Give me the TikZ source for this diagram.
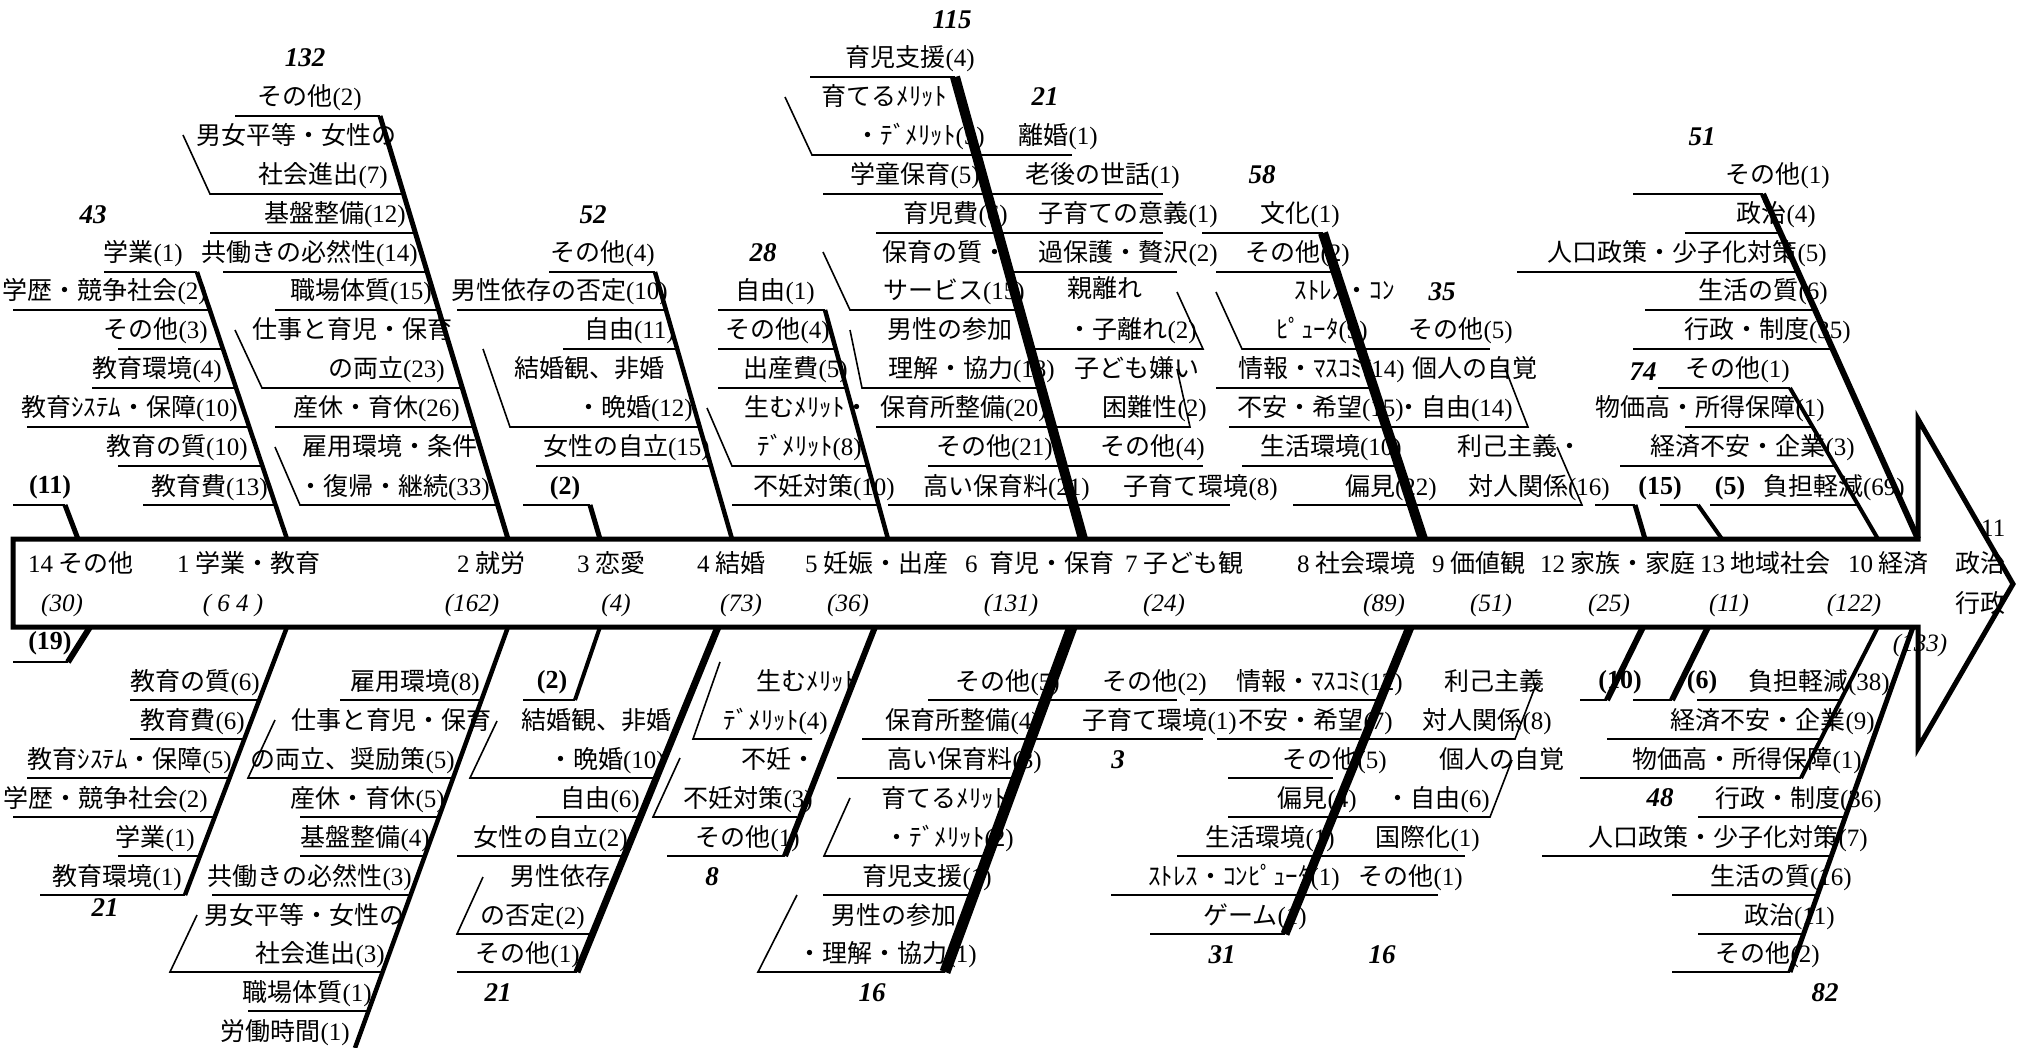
\documentclass[tikz,border=0pt]{standalone}
\usepackage{fontspec}
\setmainfont{Liberation Serif}
\newfontfamily\jp{Noto Sans CJK JP}
\newcommand\cnt[1]{{\rmfamily(#1)}}
\newcommand\rmnum[1]{{\rmfamily #1}}

\begin{document}
\begin{tikzpicture}[x=1pt,y=-1pt,
  twig/.style={line width=1.6pt},
  bone/.style={line width=5pt},
  fatbone/.style={line width=10pt},
  spine/.style={line width=5pt, line join=miter},
  itm/.style={font=\jp\fontsize{25}{30}\selectfont, anchor=base east, inner sep=0pt},
  head/.style={font=\jp\fontsize{25}{30}\selectfont, anchor=base west, inner sep=0pt},
  cnum/.style={font=\itshape\fontsize{25}{30}\selectfont, anchor=base, inner sep=0pt},
  tot/.style={font=\bfseries\itshape\fontsize{27}{30}\selectfont, inner sep=0pt},
  sub/.style={font=\bfseries\fontsize{26}{30}\selectfont, inner sep=0pt}]
\useasboundingbox (0,0) rectangle (2027,1048);

\draw[spine] (13,539) -- (1918,539) -- (1918,419) -- (2013,584) -- (1918,748) -- (1918,627) -- (13,627) -- cycle;

\node[head] (p14) at (28,572) {\rmnum{14} その他};
\node[head] (p1) at (177,572) {\rmnum{1} 学業・教育};
\node[head] (p2) at (457,572) {\rmnum{2} 就労};
\node[head] (p3) at (577,572) {\rmnum{3} 恋愛};
\node[head] (p4) at (697,572) {\rmnum{4} 結婚};
\node[head] (p5) at (805,572) {\rmnum{5} 妊娠・出産};
\node[head] (p6) at (965,572) {\rmnum{6}\hspace{12pt}育児・保育};
\node[head] (p7) at (1125,572) {\rmnum{7} 子ども観};
\node[head] (p8) at (1297,572) {\rmnum{8} 社会環境};
\node[head] (p9) at (1432,572) {\rmnum{9} 価値観};
\node[head] (p12) at (1540,572) {\rmnum{12} 家族・家庭};
\node[head] (p13) at (1700,572) {\rmnum{13} 地域社会};
\node[head] (p10) at (1848,572) {\rmnum{10} 経済};
\node[head] (p11) at (1981,536) {\rmnum{11}};
\node[head] (p11a) at (1955,572) {政治};
\node[head] (p11b) at (1955,612) {行政};

\node[cnum] (q14) at (62,611) {(30)};
\node[cnum] (q1) at (233,611) {( 6 4 )};
\node[cnum] (q2) at (472,611) {(162)};
\node[cnum] (q3) at (616,611) {(4)};
\node[cnum] (q4) at (741,611) {(73)};
\node[cnum] (q5) at (848,611) {(36)};
\node[cnum] (q6) at (1011,611) {(131)};
\node[cnum] (q7) at (1164,611) {(24)};
\node[cnum] (q8) at (1384,611) {(89)};
\node[cnum] (q9) at (1491,611) {(51)};
\node[cnum] (q12) at (1609,611) {(25)};
\node[cnum] (q13) at (1729,611) {(11)};
\node[cnum] (q10) at (1854,611) {(122)};
\node[cnum] (q11) at (1920,651) {(133)};

% upper side
\draw[bone] (78,539) -- (65,505);
\draw[twig] (13,505) -- (65,505);
\node[sub] (s14u) at (50,487) {(11)};

\draw[bone, line width=4.5pt] (287,539) -- (197,272);
\draw[twig] (104,272) -- (197,272); \node[itm] (a1) at (183,262) {学業\cnt{1}};
\draw[twig] (13,310) -- (210,310); \node[itm] (a2) at (207,300) {学歴・競争社会\cnt{2}};
\draw[twig] (118,349) -- (223,349); \node[itm] (a3) at (208,339) {その他\cnt{3}};
\draw[twig] (92,388) -- (236,388); \node[itm] (a4) at (222,378) {教育環境\cnt{4}};
\draw[twig] (27,427) -- (249,427); \node[itm] (a5) at (238,417) {教育ｼｽﾃﾑ・保障\cnt{10}};
\draw[twig] (118,466) -- (262,466); \node[itm] (a6) at (248,456) {教育の質\cnt{10}};
\draw[twig] (143,505) -- (276,505); \node[itm] (a7) at (268,495) {教育費\cnt{13}};
\node[tot] (a0) at (93,215) {43};

\draw[bone] (508,539) -- (380,116);
\draw[twig] (235,116) -- (380,116); \node[itm] (b1) at (362,106) {その他\cnt{2}};
\draw[twig] (183,135) -- (210,194) -- (404,194); \node[itm] (b2) at (397,145) {男女平等・女性の}; \node[itm] (b3) at (388,184) {社会進出\cnt{7}};
\draw[twig] (210,233) -- (415,233); \node[itm] (b4) at (406,223) {基盤整備\cnt{12}};
\draw[twig] (223,272) -- (427,272); \node[itm] (b5) at (418,262) {共働きの必然性\cnt{14}};
\draw[twig] (275,310) -- (439,310); \node[itm] (b6) at (432,300) {職場体質\cnt{15}};
\draw[twig] (235,330) -- (262,388) -- (462,388); \node[itm] (b7) at (453,339) {仕事と育児・保育}; \node[itm] (b8) at (445,378) {の両立\cnt{23}};
\draw[twig] (275,427) -- (474,427); \node[itm] (b9) at (460,417) {産休・育休\cnt{26}};
\draw[twig] (275,447) -- (300,505) -- (498,505); \node[itm] (b10) at (478,456) {雇用環境・条件}; \node[itm] (b11) at (490,495) {・復帰・継続\cnt{33}};
\node[tot] (b0) at (305,58) {132};

\draw[bone] (600,539) -- (590,505);
\draw[twig] (523,505) -- (590,505);
\node[sub] (c0) at (565,488) {(2)};

\draw[bone, line width=4.5pt] (732,539) -- (655,272);
\draw[twig] (549,272) -- (655,272); \node[itm] (d1) at (655,262) {その他\cnt{4}};
\draw[twig] (457,310) -- (666,310); \node[itm] (d2) at (668,300) {男性依存の否定\cnt{10}};
\draw[twig] (563,349) -- (677,349); \node[itm] (d3) at (675,339) {自由\cnt{11}};
\draw[twig] (483,349) -- (510,427) -- (700,427); \node[itm] (d4) at (665,378) {結婚観、非婚}; \node[itm] (d5) at (693,417) {・晩婚\cnt{12}};
\draw[twig] (536,466) -- (711,466); \node[itm] (d6) at (710,456) {女性の自立\cnt{15}};
\node[tot] (d0) at (593,215) {52};

\draw[bone, line width=4.5pt] (888,539) -- (825,310);
\draw[twig] (718,310) -- (825,310); \node[itm] (e1) at (815,300) {自由\cnt{1}};
\draw[twig] (718,349) -- (836,349); \node[itm] (e2) at (830,339) {その他\cnt{4}};
\draw[twig] (718,388) -- (846,388); \node[itm] (e3) at (848,378) {出産費\cnt{5}};
\draw[twig] (707,408) -- (732,466) -- (868,466); \node[itm] (e4) at (870,417) {生むﾒﾘｯﾄ・}; \node[itm] (e5) at (862,456) {ﾃﾞﾒﾘｯﾄ\cnt{8}};
\draw[twig] (732,505) -- (879,505); \node[itm] (e6) at (895,495) {不妊対策\cnt{10}};
\node[tot] (e0) at (763,253) {28};

\draw[fatbone] (1083,539) -- (955,77);
\draw[twig] (810,77) -- (955,77); \node[itm] (f1) at (975,67) {育児支援\cnt{4}};
\draw[twig] (785,97) -- (812,155) -- (977,155); \node[itm] (f2) at (947,106) {育てるﾒﾘｯﾄ}; \node[itm] (f3) at (985,145) {・ﾃﾞﾒﾘｯﾄ\cnt{5}};
\draw[twig] (823,194) -- (987,194); \node[itm] (f4) at (980,184) {学童保育\cnt{5}};
\draw[twig] (876,233) -- (998,233); \node[itm] (f5) at (1008,223) {育児費\cnt{6}};
\draw[twig] (823,252) -- (850,310) -- (1019,310); \node[itm] (f6) at (1008,262) {保育の質・}; \node[itm] (f7) at (1025,300) {サービス\cnt{15}};
\draw[twig] (850,330) -- (862,388) -- (1041,388); \node[itm] (f8) at (1038,339) {男性の参加・}; \node[itm] (f9) at (1055,378) {理解・協力\cnt{18}};
\draw[twig] (876,427) -- (1052,427); \node[itm] (f10) at (1047,417) {保育所整備\cnt{20}};
\draw[twig] (928,466) -- (1063,466); \node[itm] (f11) at (1053,456) {その他\cnt{21}};
\draw[twig] (888,505) -- (1074,505); \node[itm] (f12) at (1090,495) {高い保育料\cnt{21}};
\node[tot] (f0) at (952,20) {115};

\draw[twig] (977,155) -- (1072,155); \node[itm] (g1) at (1098,145) {離婚\cnt{1}};
\draw[twig] (987,194) -- (1163,194); \node[itm] (g2) at (1180,184) {老後の世話\cnt{1}};
\draw[twig] (998,233) -- (1163,233); \node[itm] (g3) at (1218,223) {子育ての意義\cnt{1}};
\draw[twig] (1009,272) -- (1177,272); \node[itm] (g4) at (1218,262) {過保護・贅沢\cnt{2}};
\draw[twig] (1030,349) -- (1203,349) -- (1177,292); \node[itm] (g5) at (1143,298) {親離れ}; \node[itm] (g6) at (1197,339) {・子離れ\cnt{2}};
\draw[twig] (1052,427) -- (1190,427) -- (1177,369); \node[itm] (g7) at (1200,378) {子ども嫌い}; \node[itm] (g8) at (1207,417) {困難性\cnt{2}};
\draw[twig] (1063,466) -- (1203,466); \node[itm] (g9) at (1205,456) {その他\cnt{4}};
\draw[twig] (1074,505) -- (1230,505); \node[itm] (g10) at (1278,495) {子育て環境\cnt{8}};
\node[tot] (g0) at (1045,97) {21};

\draw[fatbone] (1423,539) -- (1323,233);
\draw[twig] (1202,233) -- (1323,233); \node[itm] (h1) at (1340,223) {文化\cnt{1}};
\draw[twig] (1216,272) -- (1336,272); \node[itm] (h2) at (1350,262) {その他\cnt{2}};
\draw[twig] (1216,292) -- (1242,349) -- (1361,349); \node[itm] (h3) at (1395,300) {ｽﾄﾚｽ・ｺﾝ}; \node[itm] (h4) at (1368,339) {ﾋﾟｭｰﾀ\cnt{9}};
\draw[twig] (1216,388) -- (1374,388); \node[itm] (h5) at (1405,378) {情報・ﾏｽｺﾐ\cnt{14}};
\draw[twig] (1229,427) -- (1386,427); \node[itm] (h6) at (1404,417) {不安・希望\cnt{15}};
\draw[twig] (1242,466) -- (1399,466); \node[itm] (h7) at (1402,456) {生活環境\cnt{10}};
\draw[twig] (1293,505) -- (1412,505); \node[itm] (h8) at (1437,495) {偏見\cnt{22}};
\node[tot] (h0) at (1262,175) {58};

\draw[twig] (1361,349) -- (1490,349); \node[itm] (i1) at (1513,339) {その他\cnt{5}};
\draw[twig] (1386,427) -- (1528,427) -- (1505,368); \node[itm] (i2) at (1538,378) {個人の自覚}; \node[itm] (i3) at (1513,417) {・自由\cnt{14}};
\draw[twig] (1412,505) -- (1582,505) -- (1557,447); \node[itm] (i4) at (1583,456) {利己主義・}; \node[itm] (i5) at (1610,495) {対人関係\cnt{16}};
\node[tot] (i0) at (1442,292) {35};

\draw[bone] (1645,539) -- (1635,505);
\draw[twig] (1595,505) -- (1635,505);
\node[sub] (l0) at (1660,488) {(15)};
\draw[bone, line width=4pt] (1722,539) -- (1698,505);
\draw[twig] (1660,505) -- (1698,505);
\node[sub] (m0) at (1730,488) {(5)};

\draw[bone, line width=4pt] (1878,539) -- (1790,388);
\draw[twig] (1658,388) -- (1790,388); \node[itm] (j1) at (1790,378) {その他\cnt{1}};
\draw[twig] (1685,427) -- (1812,427); \node[itm] (j2) at (1825,417) {物価高・所得保障\cnt{1}};
\draw[twig] (1620,466) -- (1835,466); \node[itm] (j3) at (1855,456) {経済不安・企業\cnt{3}};
\draw[twig] (1710,505) -- (1858,505); \node[itm] (j4) at (1905,495) {負担軽減\cnt{69}};
\node[tot] (j0) at (1643,372) {74};

\draw[bone, line width=6pt] (1918,539) -- (1763,194);
\draw[twig] (1633,194) -- (1763,194); \node[itm] (k1) at (1830,184) {その他\cnt{1}};
\draw[twig] (1685,233) -- (1781,233); \node[itm] (k2) at (1816,223) {政治\cnt{4}};
\draw[twig] (1517,272) -- (1798,272); \node[itm] (k3) at (1827,262) {人口政策・少子化対策\cnt{5}};
\draw[twig] (1645,310) -- (1815,310); \node[itm] (k4) at (1828,300) {生活の質\cnt{6}};
\draw[twig] (1633,349) -- (1833,349); \node[itm] (k5) at (1851,339) {行政・制度\cnt{35}};
\node[tot] (k0) at (1702,137) {51};

% lower side
\draw[bone, line width=6pt] (90,627) -- (68,662);
\draw[twig] (13,662) -- (68,662);
\node[sub] (s14l) at (50,643) {(19)};

\draw[bone, line width=4.5pt] (287,627) -- (185,895);
\draw[twig] (130,700) -- (259,700); \node[itm] (a21) at (260,690) {教育の質\cnt{6}};
\draw[twig] (130,739) -- (244,739); \node[itm] (a22) at (245,729) {教育費\cnt{6}};
\draw[twig] (27,778) -- (230,778); \node[itm] (a23) at (232,768) {教育ｼｽﾃﾑ・保障\cnt{5}};
\draw[twig] (13,817) -- (215,817); \node[itm] (a24) at (208,807) {学歴・競争社会\cnt{2}};
\draw[twig] (118,856) -- (200,856); \node[itm] (a25) at (195,846) {学業\cnt{1}};
\draw[twig] (40,895) -- (185,895); \node[itm] (a26) at (182,885) {教育環境\cnt{1}};
\node[tot] (a20) at (105,908) {21};

\draw[bone, line width=4.5pt] (508,627) -- (355,1048);
\draw[twig] (340,700) -- (480,700); \node[itm] (b21) at (480,690) {雇用環境\cnt{8}};
\draw[twig] (275,720) -- (248,778) -- (451,778); \node[itm] (b22) at (492,729) {仕事と育児・保育}; \node[itm] (b23) at (455,768) {の両立、奨励策\cnt{5}};
\draw[twig] (300,817) -- (437,817); \node[itm] (b24) at (445,807) {産休・育休\cnt{5}};
\draw[twig] (300,856) -- (423,856); \node[itm] (b25) at (430,846) {基盤整備\cnt{4}};
\draw[twig] (212,895) -- (409,895); \node[itm] (b26) at (412,885) {共働きの必然性\cnt{3}};
\draw[twig] (197,915) -- (170,972) -- (381,972); \node[itm] (b27) at (405,924) {男女平等・女性の}; \node[itm] (b28) at (385,962) {社会進出\cnt{3}};
\draw[twig] (248,1011) -- (367,1011); \node[itm] (b29) at (372,1001) {職場体質\cnt{1}};
\node[itm] (b30) at (350,1040) {労働時間\cnt{1}};

\draw[bone, line width=4pt] (600,627) -- (575,700);
\draw[twig] (523,700) -- (575,700);
\node[sub] (c20) at (552,682) {(2)};

\draw[bone, line width=7pt] (718,627) -- (577,972);
\draw[twig] (497,721) -- (470,778) -- (656,778); \node[itm] (d21) at (672,729) {結婚観、非婚}; \node[itm] (d22) at (665,768) {・晩婚\cnt{10}};
\draw[twig] (536,817) -- (640,817); \node[itm] (d23) at (640,807) {自由\cnt{6}};
\draw[twig] (457,856) -- (624,856); \node[itm] (d24) at (628,846) {女性の自立\cnt{2}};
\draw[twig] (483,877) -- (457,934) -- (593,934); \node[itm] (d25) at (611,885) {男性依存}; \node[itm] (d26) at (585,924) {の否定\cnt{2}};
\draw[twig] (457,972) -- (577,972); \node[itm] (d27) at (580,962) {その他\cnt{1}};
\node[tot] (d20) at (498,993) {21};

\draw[bone, line width=6pt] (875,627) -- (785,856);
\draw[twig] (720,662) -- (693,739) -- (812,739); \node[itm] (e21) at (857,690) {生むﾒﾘｯﾄ}; \node[itm] (e22) at (828,729) {ﾃﾞﾒﾘｯﾄ\cnt{4}};
\draw[twig] (680,758) -- (653,817) -- (797,817); \node[itm] (e23) at (817,768) {不妊・}; \node[itm] (e24) at (813,807) {不妊対策\cnt{3}};
\draw[twig] (667,856) -- (785,856); \node[itm] (e25) at (800,846) {その他\cnt{1}};
\node[tot] (e20) at (712,877) {8};

\draw[bone, line width=11pt] (1072,627) -- (945,972);
\draw[twig] (928,700) -- (1045,700); \node[itm] (f21) at (1060,690) {その他\cnt{5}};
\draw[twig] (862,739) -- (1031,739); \node[itm] (f22) at (1040,729) {保育所整備\cnt{4}};
\draw[twig] (837,778) -- (1016,778); \node[itm] (f23) at (1042,768) {高い保育料\cnt{3}};
\draw[twig] (850,798) -- (824,856) -- (988,856); \node[itm] (f24) at (1007,807) {育てるﾒﾘｯﾄ}; \node[itm] (f25) at (1014,846) {・ﾃﾞﾒﾘｯﾄ\cnt{2}};
\draw[twig] (823,895) -- (974,895); \node[itm] (f26) at (992,885) {育児支援\cnt{1}};
\draw[twig] (797,895) -- (758,972) -- (945,972); \node[itm] (f27) at (957,924) {男性の参加}; \node[itm] (f28) at (977,962) {・理解・協力\cnt{1}};
\node[tot] (f20) at (872,993) {16};

\draw[twig] (1045,700) -- (1177,700); \node[itm] (g21) at (1207,690) {その他\cnt{2}};
\draw[twig] (1031,739) -- (1203,739); \node[itm] (g22) at (1237,729) {子育て環境\cnt{1}};
\node[tot] (g20) at (1118,760) {3};

\draw[bone, line width=9pt] (1410,627) -- (1285,934);
\draw[twig] (1190,700) -- (1380,700); \node[itm] (h21) at (1403,690) {情報・ﾏｽｺﾐ\cnt{12}};
\draw[twig] (1217,739) -- (1364,739); \node[itm] (h22) at (1393,729) {不安・希望\cnt{7}};
\draw[twig] (1228,778) -- (1333,778); \node[itm] (h23) at (1387,768) {その他\cnt{5}};
\draw[twig] (1228,817) -- (1332,817); \node[itm] (h24) at (1357,807) {偏見\cnt{4}};
\draw[twig] (1177,856) -- (1316,856); \node[itm] (h25) at (1335,846) {生活環境\cnt{1}};
\draw[twig] (1111,895) -- (1300,895); \node[itm] (h26) at (1340,885) {ｽﾄﾚｽ・ｺﾝﾋﾟｭｰﾀ\cnt{1}};
\draw[twig] (1150,934) -- (1285,934); \node[itm] (h27) at (1307,924) {ゲーム\cnt{1}};
\node[tot] (h20) at (1222,955) {31};

\draw[twig] (1364,739) -- (1515,739) -- (1537,682); \node[itm] (i21) at (1545,690) {利己主義}; \node[itm] (i22) at (1552,729) {対人関係\cnt{8}};
\draw[twig] (1332,817) -- (1490,817) -- (1512,760); \node[itm] (i23) at (1565,768) {個人の自覚}; \node[itm] (i24) at (1490,807) {・自由\cnt{6}};
\draw[twig] (1316,856) -- (1465,856); \node[itm] (i25) at (1480,846) {国際化\cnt{1}};
\draw[twig] (1300,895) -- (1438,895); \node[itm] (i26) at (1463,885) {その他\cnt{1}};
\node[tot] (i20) at (1382,955) {16};

\draw[bone, line width=6pt] (1643,627) -- (1607,700);
\draw[twig] (1580,700) -- (1607,700);
\node[sub] (l20) at (1620,682) {(10)};
\draw[bone, line width=6pt] (1708,627) -- (1672,700);
\draw[twig] (1633,700) -- (1672,700);
\node[sub] (m20) at (1702,682) {(6)};

\draw[bone, line width=4pt] (1878,627) -- (1801,778);
\draw[twig] (1697,700) -- (1841,700); \node[itm] (j21) at (1890,690) {負担軽減\cnt{38}};
\draw[twig] (1607,739) -- (1821,739); \node[itm] (j22) at (1875,729) {経済不安・企業\cnt{9}};
\draw[twig] (1580,778) -- (1801,778); \node[itm] (j23) at (1862,768) {物価高・所得保障\cnt{1}};
\node[tot] (j20) at (1660,798) {48};

\draw[bone] (1913,627) -- (1790,972);
\draw[twig] (1698,817) -- (1845,817); \node[itm] (k21) at (1882,807) {行政・制度\cnt{36}};
\draw[twig] (1542,856) -- (1831,856); \node[itm] (k22) at (1868,846) {人口政策・少子化対策\cnt{7}};
\draw[twig] (1672,895) -- (1817,895); \node[itm] (k23) at (1852,885) {生活の質\cnt{16}};
\draw[twig] (1698,934) -- (1803,934); \node[itm] (k24) at (1835,924) {政治\cnt{11}};
\draw[twig] (1672,972) -- (1790,972); \node[itm] (k25) at (1820,962) {その他\cnt{2}};
\node[tot] (k20) at (1825,993) {82};
\end{tikzpicture}
\end{document}
